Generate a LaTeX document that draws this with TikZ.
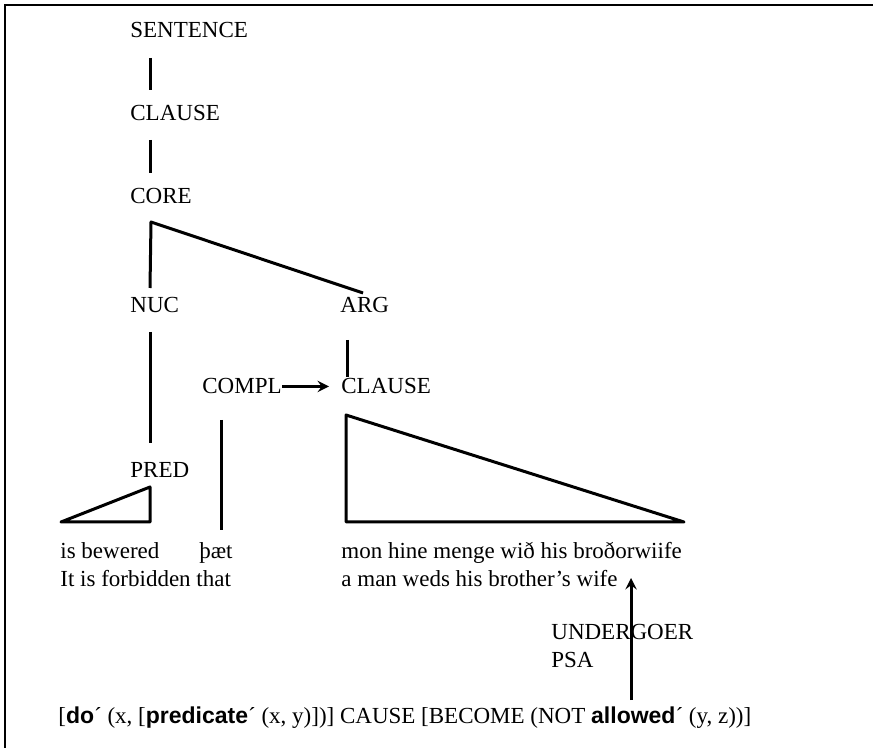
\documentclass[tikz,border=0pt]{standalone}
\usepackage{fontspec}
\setmainfont{Liberation Serif}
\newfontfamily\semsans{Liberation Sans}
\usetikzlibrary{arrows, positioning, calc}
\tikzstyle{arrow} = [line width=1.5pt,->,>=stealth]
\tikzstyle{word} = [anchor=base west, inner sep=0pt, font=\fontsize{11.5}{14}\selectfont]
\tikzstyle{branch} = [line width=1.5pt, line join=round]
\newcommand{\semword}[1]{{\semsans\bfseries #1}´}

\begin{document}
\begin{tikzpicture}[x=0.5pt, y=-0.5pt]
        \useasboundingbox (0,0) rectangle (873,748);
        \draw[line width=1pt] (5,748) -- (5,5) -- (873,5);

        % tree labels
        \node[word] (sentence) at (130,38) {SENTENCE};
        \node[word] (clause) at (130,121) {CLAUSE};
        \node[word] (core) at (130,204) {CORE};
        \node[word] (nuc) at (130,313) {NUC};
        \node[word] (arg) at (340,313) {ARG};
        \node[word] (compl) at (202,394) {COMPL};
        \node[word] (subclause) at (341,394) {CLAUSE};
        \node[word] (pred) at (130,478) {PRED};

        % words and glosses
        \node[word] (verb) at (60,559) {is bewered};
        \node[word] (that) at (199,559) {þæt};
        \node[word] (verbgloss) at (60,586) {It is forbidden that};
        \node[word] (embedded) at (341,559) {mon hine menge wið his broðorwiife};
        \node[word] (embgloss) at (341,586) {a man weds his brother’s wife};
        \node[word] (undergoer) at (551,639) {UNDERGOER};
        \node[word] (psa) at (551,667) {PSA};
        \node[word] (logstr) at (58,723) {[\semword{do} (x, [\semword{predicate} (x, y)])] CAUSE [BECOME (NOT \semword{allowed} (y, z))]};

        \draw[branch] ($(sentence.base west)+(20,20)$) -- ($(clause.base west)+(20,-31)$);
        \draw[branch] ($(clause.base west)+(20,19)$) -- ($(core.base west)+(20,-31)$);
        \draw[branch] ($(nuc.base west)+(20,-25)$) -- ($(core.base west)+(21,18)$) -- ($(arg.base west)+(23,-20)$);
        \draw[branch] ($(nuc.base west)+(20,19)$) -- ($(pred.base west)+(20,-35)$);
        \draw[branch] ($(arg.base west)+(7,27)$) -- ($(subclause.base west)+(6,-17)$);
        \draw[arrow, shorten >=6pt] (compl.east) -- (subclause.west);
        \draw[branch] ($(compl.base west)+(19,26)$) -- ($(that.base west)+(22,-29)$);
        \draw[branch] ($(pred.base west)+(20,9)$) -- ($(verb.base west)+(90,-37)$) -- ($(verb.base west)+(1,-37)$) -- cycle;
        \draw[branch] ($(subclause.base west)+(5,21)$) -- ($(embedded.base west)+(5,-37)$) -- ($(embedded.base west)+(343,-37)$) -- cycle;
        \draw[arrow] ($(logstr.base west)+(573,-23)$) -- ($(embgloss.base west)+(290,-8)$);
    \end{tikzpicture}
\end{document}
